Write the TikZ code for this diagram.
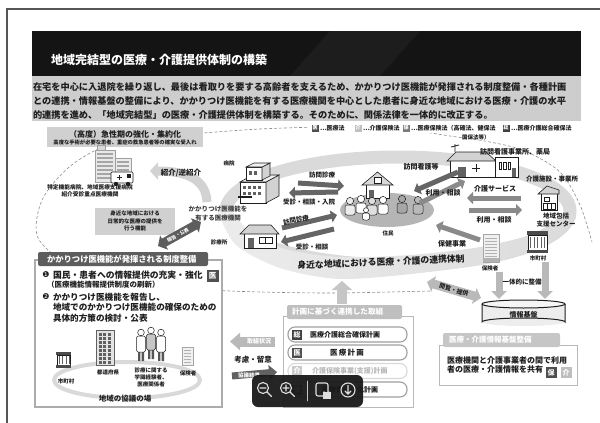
\documentclass[tikz,border=0pt]{standalone}
\usepackage{fontspec}
\setmainfont{Noto Sans CJK JP}
\newfontfamily\dingfont{DejaVu Sans}
\usetikzlibrary{arrows.meta,calc,shapes.geometric}
\definecolor{ink}{HTML}{1E1E1E}
\definecolor{barblack}{HTML}{141414}
\definecolor{bandgray}{HTML}{CDCDCD}
\definecolor{ringgray}{HTML}{DADADA}
\definecolor{boxgray}{HTML}{D0D0D0}
\definecolor{tagdark}{HTML}{4F4F4F}
\definecolor{tagmid}{HTML}{7A7A7A}
\definecolor{taglight}{HTML}{BEBEBE}
\definecolor{arrowgray}{HTML}{8A8A8A}
\definecolor{arrowdark}{HTML}{656565}
\definecolor{linegray}{HTML}{8C8C8C}
\newcommand{\fsz}[1]{\fontsize{#1}{#1}\selectfont}

\tikzset{
  lbl/.style={inner sep=0pt, outer sep=0pt, text=ink, font=\bfseries\fsz{#1}},
  lbl/.default=6,
  wlbl/.style={inner sep=0pt, outer sep=0pt, text=white, font=\bfseries\fsz{#1}},
  wlbl/.default=6,
  tagbox/.style={minimum width=#1, minimum height=#1, inner sep=0pt, text=white, font=\bfseries\fsz{0.7*#1}},
  tagbox/.default=10,
  arr5/.style={line width=5pt, -{Triangle[length=6pt,width=12pt]}},
  arr10/.style={line width=10pt, -{Triangle[length=9pt,width=20pt]}},
  darr/.style={line width=9pt, {Triangle[length=7pt,width=16pt]}-{Triangle[length=7pt,width=16pt]}},
  thin/.style={draw=ink, line width=0.6pt},
  pics/person/.style={code={
    \filldraw[fill=#1, draw=ink, line width=0.5pt, rounded corners=2pt] (-5,10) -- (-5,0) -- (5,0) -- (5,10) -- cycle;
    \filldraw[fill=#1, draw=ink, line width=0.5pt] (0,-4) circle (3.6);
  }},
  pics/stander/.style={code={
    \fill[ink!75] (-3,4) rectangle (-0.6,14) (0.6,4) rectangle (3,14);
    \filldraw[fill=#1, draw=ink, line width=0.5pt, rounded corners=1.5pt] (-4.5,-11) rectangle (4.5,5);
    \filldraw[fill=white, draw=ink, line width=0.5pt] (0,-14.5) circle (3.3);
  }}
}

\begin{document}
\begin{tikzpicture}[x=1pt, y=-1pt]
\useasboundingbox (0,0) rectangle (600,423);

% page frame
\draw[ink!75, line width=1.2pt] (600,9) -- (7,9) -- (7,423);

% header bar
\fill[barblack] (32,31) rectangle (581,76);
\fill[white, opacity=0.04] (330,31) -- (420,31) -- (380,76) -- (290,76) -- cycle;
\node[wlbl=12, anchor=west] (title) at (51,60) {地域完結型の医療・介護提供体制の構築};

% summary band
\fill[bandgray] (32,76) rectangle (581,121);
\node[lbl=9.2, anchor=west] (sum1) at (33,87) {在宅を中心に入退院を繰り返し、最後は看取りを要する高齢者を支えるため、かかりつけ医機能が発揮される制度整備・各種計画};
\node[lbl=9.2, anchor=west] (sum2) at (33,101) {との連携・情報基盤の整備により、かかりつけ医機能を有する医療機関を中心とした患者に身近な地域における医療・介護の水平};
\node[lbl=9.2, anchor=west] (sum3) at (33,115) {的連携を進め、「地域完結型」の医療・介護提供体制を構築する。そのために、関係法律を一体的に改正する。};

% outer dashed region
\draw[linegray, dash pattern=on 3pt off 2pt, line width=0.6pt] plot[smooth] coordinates {(430,291) (330,293) (230,291) (140,285) (75,268) (38,238) (42,200) (68,168) (103,147) (150,137) (203,133) (260,129) (330,127) (400,129) (450,136) (490,142) (525,151) (560,172) (580,205) (592,242)};

% legend
\fill[white] (308,123) rectangle (590,133);
\node[tagbox=7, fill=tagdark, font=\bfseries\fsz{5}] (lg1) at (315,128) {医};
\node[lbl=6, anchor=west] (lt1) at (320,128) {…医療法};
\node[tagbox=7, fill=taglight, font=\bfseries\fsz{5}] (lg2) at (358,128) {介};
\node[lbl=6, anchor=west] (lt2) at (363,128) {…介護保険法};
\node[tagbox=7, fill=tagmid, font=\bfseries\fsz{5}] (lg3) at (406,128) {保};
\node[lbl=6, anchor=west] (lt3) at (411,128) {…医療保険法（高確法、健保法};
\node[lbl=5.5, anchor=west] (lt3b) at (462,137) {国保法等）};
\node[tagbox=7, fill=ink!85, font=\bfseries\fsz{5}] (lg4) at (506,128) {総};
\node[lbl=6, anchor=west] (lt4) at (511,128) {…医療介護総合確保法};

% community ring
\draw[ringgray, line width=13pt] (398,211) ellipse [x radius=172, y radius=54];
\shade[left color=white!85!gray, middle color=gray!62, right color=gray!28]
  plot[smooth] coordinates {(218,212) (236,245) (280,268) (340,279) (420,273) (490,263) (545,246) (576,218)}
  -- plot[smooth] coordinates {(568,210) (535,233) (480,247) (410,255) (340,257) (285,249) (250,232) (230,208)} -- cycle;
\node[lbl=8.8, rotate=2.5] (bandtxt) at (381,262) {身近な地域における医療・介護の連携体制};

% acute care hospitals (top left)
\fill[boxgray] (47,127) rectangle (203,147);
\node[lbl=8] (acute) at (125,134) {（高度）急性期の強化・集約化};
\node[lbl=5.3] (acute2) at (125,142.5) {高度な手術が必要な患者、重症の救急患者等の確実な受入れ};
\filldraw[fill=gray!18, draw=gray!75, line width=0.5pt] (95,150) rectangle (115,182);
\foreach \yy in {154,158,...,178} \draw[gray!70, line width=1.2pt] (97,\yy) -- (113,\yy);
\filldraw[fill=gray!30, draw=gray!75, line width=0.5pt] (97,145) rectangle (105,150);
\filldraw[fill=gray!15, draw=gray!75, line width=0.5pt] (115,158) rectangle (131,178);
\foreach \yy in {162,166,...,174} \draw[gray!70, line width=1.2pt] (117,\yy) -- (129,\yy);
\filldraw[fill=white, draw=ink, line width=0.6pt, rounded corners=1pt] (111,172) rectangle (133,183);
\fill[ink] (127,174) rectangle (131,178);
\draw[ink, line width=0.7pt] (117,177.5) -- (122,177.5) (119.5,175) -- (119.5,180);
\fill[ink] (116,184) circle (2.2) (128,184) circle (2.2);
\node[lbl=5.7, align=center] (bighosp) at (90,191) {特定機能病院、地域医療支援病院\\[1.5pt]紹介受診重点医療機関};

% referral arrow
\draw[gray!35, line width=9pt, -{Triangle[length=8pt,width=17pt]}] (207,202) .. controls (206,180) and (188,171) .. (150,171);
\node[lbl=7.5] (referral) at (181,173) {紹介/逆紹介};

% everyday care function
\fill[boxgray] (95,208) rectangle (175,235);
\node[lbl=5.5, align=center] (dailycare) at (135,221) {身近な地域における\\[2pt]日常的な医療の提供を\\[2pt]行う機能};

% family doctor institutions
\node[lbl=6.5, align=center, text=ink!85] (kakari) at (218,213.5) {かかりつけ医機能を\\[2pt]有する医療機関};

% hospital icon
\filldraw[fill=white, thin] (240,182) rectangle (266,203);
\filldraw[fill=gray!35, thin] (266,182) -- (279,175) -- (279,196) -- (266,203) -- cycle;
\filldraw[fill=gray!12, thin] (240,182) -- (253,175) -- (279,175) -- (266,182) -- cycle;
\filldraw[fill=white, thin] (246,167) rectangle (262,180);
\filldraw[fill=gray!35, thin] (262,167) -- (270,163) -- (270,176) -- (262,180) -- cycle;
\filldraw[fill=gray!12, thin] (246,167) -- (254,163) -- (270,163) -- (262,167) -- cycle;
\foreach \xx in {243,248,...,261} {\fill[ink!70] (\xx,186) rectangle ++(3,3); \fill[ink!70] (\xx,192) rectangle ++(3,3);}
\foreach \xx in {249,254} \fill[ink!70] (\xx,171) rectangle ++(3,4);
\draw[ink, line width=1.2pt] (238,197) -- (252,197);
\node[lbl=5.5] (hosplbl) at (229,163) {病院};

% clinic icon
\filldraw[fill=white, thin] (244,233) rectangle (276,248);
\filldraw[fill=gray!35, thin] (240,234) -- (249,225) -- (271,225) -- (279,234) -- cycle;
\fill[ink!70] (248,238) rectangle (254,248);
\filldraw[fill=white, thin] (259,237) rectangle (272,243);
\draw[ink, line width=0.5pt] (265.5,237) -- (265.5,243);
\node[lbl=5.5] (cliniclbl) at (219,242) {診療所};

% residents
\node[ellipse, fill=gray!58, minimum width=94pt, minimum height=34pt, inner sep=0pt] (res) at (387,210) {};
\filldraw[fill=white, thin] (366,184) rectangle (389,198);
\filldraw[fill=gray!30, thin] (362,185) -- (377.5,172) -- (393,185) -- cycle;
\filldraw[fill=white, thin] (374,177) rectangle (381,183);
\fill[ink!70] (369,190) rectangle (374,198);
\pic at (350,205) {person=gray!15};
\pic at (361,203) {person=white};
\pic at (372,205) {person=gray!25};
\pic at (383,204) {person=white};
\pic[scale=0.7] at (366,213) {person=white};
\pic at (402,203) {person=gray!70};
\pic at (418,204) {person=gray!55};
\node[lbl=5.5] (reslbl) at (388,233) {住民};

% home-visit clinic arrows
\coordinate (hospOut) at (298,183);
\coordinate (resInA) at (344,186);
\coordinate (resOutA) at (338,192);
\coordinate (hospIn) at (289,193);
\draw[arr5, arrowdark] (hospOut) -- (resInA);
\draw[arr5, arrowdark] (resOutA) -- (hospIn);
\node[lbl=6.5] (visit1) at (322,175) {訪問診療};
\node[lbl=6.5] (consult1) at (309,202) {受診・相談・入院};
\coordinate (clinOut) at (282,228);
\coordinate (resInB) at (337,215);
\coordinate (resOutB) at (334,229);
\coordinate (clinIn) at (281,242);
\draw[arr5, arrowdark] (clinOut) -- (resInB);
\draw[arr5, arrowdark] (resOutB) -- (clinIn);
\node[lbl=6.5, rotate=12] (visit2) at (296,220) {訪問診療};
\node[lbl=6.5] (consult2) at (312,247) {受診・相談};

% home-visit nursing station and pharmacy
\filldraw[fill=white, thin] (450,160) rectangle (495,177);
\filldraw[fill=gray!35, thin] (447,161) -- (456,152) -- (486,152) -- (496,161) -- cycle;
\draw[ink, line width=0.8pt] (455,152) -- (455,144) (451,147) -- (459,145);
\fill[ink!70] (458,167) rectangle (466,177);
\draw[ink, line width=0.8pt] (472,168) -- (480,168) (476,164) -- (476,172);
\filldraw[fill=white, thin] (495,157) rectangle (518,177);
\foreach \xx in {499,503.5,508} \filldraw[fill=white, draw=ink, line width=0.6pt] (\xx,162) rectangle ++(2.5,7);
\fill[ink!70] (512,168) rectangle (516,177);
\node[lbl=7, anchor=west] (nurselbl) at (480,152) {訪問看護事業所、薬局};

\coordinate (nurseOut) at (458,172);
\coordinate (resInC) at (414,191);
\coordinate (resOutC) at (420,203);
\coordinate (nurseIn) at (465,181);
\draw[arr5, arrowdark] (nurseOut) -- (resInC);
\draw[arr5, arrowgray] (resOutC) -- (nurseIn);
\node[lbl=7] (nurse) at (421,167) {訪問看護等};
\node[lbl=7] (use1) at (443,193) {利用・相談};

% care facility and community support center
\filldraw[fill=white, thin] (541,193) rectangle (557,210);
\filldraw[fill=gray!35, thin] (538,194) -- (547,186) -- (559,190) -- (559,194) -- cycle;
\filldraw[fill=white, thin] (544,197) rectangle (549,201);
\filldraw[fill=white, thin] (543,203) rectangle (555,209);
\draw[ink, line width=0.6pt] (547,203) -- (547,209) (551,203) -- (551,209);
\node[lbl=6.5] (carelbl) at (552,179) {介護施設・事業所};
\node[lbl=6.5, align=center] (centerlbl) at (556,220) {地域包括\\[2pt]支援センター};

\coordinate (careOut) at (521,198);
\coordinate (resInD) at (467,198);
\coordinate (resOutD) at (469,210);
\coordinate (careIn) at (522,210);
\draw[arr5, arrowgray] (careOut) -- (resInD);
\draw[arr5, arrowgray] (resOutD) -- (careIn);
\node[lbl=7] (caresvc) at (495,189) {介護サービス};
\node[lbl=7] (use2) at (494,220) {利用・相談};

% insurers and municipality
\filldraw[fill=gray!12, draw=gray!70, line width=0.6pt] (483,234) rectangle (499,262);
\foreach \yy in {238,241,...,256} \draw[gray!60, line width=0.6pt] (485,\yy) -- (497,\yy);
\fill[gray!60] (483,258) rectangle (499,262);
\node[lbl=5.5] (insurerlbl) at (490,268) {保険者};
\fill[ink!80] (527,231) rectangle (548,235);
\filldraw[fill=white, draw=ink, line width=0.5pt] (528,235) rectangle (547,251);
\foreach \xx in {530.5,534,...,545} \draw[ink!70, line width=1pt] (\xx,237) -- (\xx,248);
\fill[ink!80] (527,250) rectangle (548,253);
\node[lbl=5.5] (citylbl) at (538,258) {市町村};

\coordinate (insOut) at (480,240);
\coordinate (resInE) at (436,225);
\draw[arr5, arrowgray] (insOut) -- (resInE);
\node[lbl=7] (health) at (452,244) {保健事業};

% information platform
\coordinate (insDown) at (499,272);
\coordinate (cityDown) at (545,262);
\coordinate (kibanL) at (499,299);
\coordinate (kibanR) at (545,299);
\draw[gray!55, line width=7pt, -{Triangle[length=8pt,width=15pt]}] (insDown) -- (kibanL);
\draw[gray!55, line width=7pt, -{Triangle[length=8pt,width=15pt]}] (cityDown) -- (kibanR);
\node[lbl=6.5] (integ) at (522,282) {一体的に整備};
\fill[gray!14] (482,304) rectangle (565,322);
\fill[gray!14] (523.5,322) ellipse [x radius=41.5, y radius=4];
\draw[ink, line width=1pt] (482,304) -- (482,322) arc[start angle=180, end angle=360, x radius=41.5, y radius=4] -- (565,304);
\filldraw[fill=gray!8, draw=ink, line width=1pt] (523.5,304) ellipse [x radius=41.5, y radius=4];
\node[lbl=7] (kiban) at (523.5,315) {情報基盤};

\coordinate (viewA) at (427,282);
\coordinate (viewB) at (481,298);
\draw[darr, gray!55] (viewA) -- (viewB);
\node[lbl=6, rotate=-17] (viewtxt) at (454,290) {閲覧・提供};

% information sharing box
\filldraw[fill=white, draw=gray!55, line width=1pt] (439,345) rectangle (577,385);
\fill[gray!45, rounded corners=2pt] (443,333) rectangle (560,347);
\node[wlbl=7.5, anchor=west] (infotitle) at (449,340) {医療・介護情報基盤整備};
\node[lbl=8, anchor=west, align=left] (infobody) at (447,364.5) {医療機関と介護事業者の間で利用\\[1pt]者の医療・介護情報を共有};
\node[tagbox=11, fill=tagdark, font=\bfseries\fsz{7}] (tagho) at (551,372.5) {保};
\node[tagbox=11, fill=taglight, font=\bfseries\fsz{7}] (tagkai) at (566,372.5) {介};

% plan-based collaboration
\coordinate (planTop) at (342,304);
\coordinate (bandHit) at (342,281);
\draw[arr10, gray!45] (planTop) -- (bandHit);
\filldraw[fill=white, draw=gray!55, line width=1pt] (283,316) rectangle (413,407);
\fill[gray!50, rounded corners=2pt] (287,305) rectangle (402,319);
\node[wlbl=7.6, anchor=west] (plantitle) at (292,312) {計画に基づく連携した取組};
\foreach \yc/\col in {334.5/gray!75, 352.5/gray!75, 371/gray!30, 389.5/gray!75}
  \draw[\col, line width=1.1pt, rounded corners=7pt] (288,\yc-7.5) rectangle (407,\yc+7.5);
\node[tagbox=10, fill=ink!85, font=\bfseries\fsz{7}] (p1tag) at (297,334.5) {総};
\node[lbl=7, anchor=west] (p1) at (310,334.5) {医療介護総合確保計画};
\node[tagbox=10, fill=tagdark, font=\bfseries\fsz{7}] (p2tag) at (297,352.5) {医};
\node[lbl=7.5] (p2) at (347,352.5) {医\,療\,計\,画};
\node[tagbox=10, fill=taglight!80, font=\bfseries\fsz{7}] (p3tag) at (297,371) {介};
\node[lbl=7, anchor=west, text=gray!55] (p3) at (312,371) {介護保険事業(支援)計画};
\node[tagbox=10, fill=tagmid, font=\bfseries\fsz{7}] (p4tag) at (297,389.5) {保};
\node[lbl=7] (p4) at (350,389.5) {医療費適正化計画};

% status feedback arrows
\coordinate (statusR) at (275,341.5);
\coordinate (statusL) at (230,341.5);
\draw[gray!55, line width=10pt, -{Triangle[length=10pt,width=17pt]}] (statusR) -- (statusL);
\node[wlbl=6] (status) at (259,341.5) {取組状況};
\node[lbl=7.5] (consider) at (253,360) {考慮・留意};
\coordinate (resultL) at (232,376);
\coordinate (resultR) at (277,372);
\draw[ink!70, line width=7pt, -{Triangle[length=8pt,width=15pt]}] (resultL) -- (resultR);
\node[wlbl=5.5] (result) at (249,375.5) {協議結果};

% family doctor function system box
\filldraw[fill=white, draw=gray!65, line width=1.2pt] (35,260) rectangle (222,407);
\fill[ink!72, rounded corners=2pt] (38,252) rectangle (208,266);
\node[wlbl=8.3, anchor=west] (systitle) at (47,259) {かかりつけ医機能が発揮される制度整備};
\node[inner sep=0pt, text=ink, font=\dingfont\fsz{8}] (num1) at (46,275) {❶};
\node[lbl=8.8, anchor=west] (item1) at (53,275) {国民・患者への情報提供の充実・強化};
\node[tagbox=12, fill=tagdark, font=\bfseries\fsz{7.5}] (tagi) at (212.5,276) {医};
\node[lbl=7.5, anchor=west] (item1b) at (47,284.5) {（医療機能情報提供制度の刷新）};
\node[inner sep=0pt, text=ink, font=\dingfont\fsz{8}] (num2) at (46,297) {❷};
\node[lbl=8.6, anchor=west] (item2a) at (53,297) {かかりつけ医機能を報告し、};
\node[lbl=8.6, anchor=west] (item2b) at (53,307.5) {地域でのかかりつけ医機能の確保のための};
\node[lbl=8.6, anchor=west] (item2c) at (53,318.5) {具体的方策の検討・公表};

% regional council
\draw[gray!30, line width=4pt] (127,380) ellipse [x radius=73, y radius=18];
\fill[ink!80] (56,352) rectangle (71,355);
\filldraw[fill=white, draw=ink, line width=0.5pt] (57,355) rectangle (70,365);
\foreach \xx in {59,62.5,66,69} \draw[ink!70, line width=0.9pt] (\xx,356) -- (\xx,364);
\fill[ink!80] (56,365) rectangle (71,368);
\node[lbl=5.5] (council1) at (66,381) {市町村};
\filldraw[fill=gray!22, draw=ink!70, line width=0.5pt] (96,330) rectangle (114,365);
\foreach \yy in {333,337,...,361} \foreach \xx in {98.5,103,107.5} \fill[ink!70] (\xx,\yy) rectangle ++(3,2.5);
\node[lbl=5.5] (council2) at (108,372) {都道府県};
\pic at (141,347) {stander=white};
\pic at (151,345) {stander=gray!45};
\pic at (161,347) {stander=white};
\node[lbl=5.5, align=center] (council3) at (151,377) {診療に関する\\[1.5pt]学識経験者、\\[1.5pt]医療関係者};
\filldraw[fill=gray!12, draw=gray!70, line width=0.6pt] (182,347) rectangle (193,365);
\foreach \yy in {350,353,...,362} \draw[gray!60, line width=0.6pt] (184,\yy) -- (191,\yy);
\node[lbl=5.5] (council4) at (188,373) {保険者};
\node[lbl=7.5] (councilname) at (125,399) {地域の協議の場};

% report arrow between institutions and the system box
\coordinate (repA) at (158,246);
\coordinate (repB) at (201,222);
\draw[darr, ink!72] (repA) -- (repB);
\node[wlbl=4.8, rotate=29] (report) at (178,235) {報告・公表};

% viewer toolbar
\fill[black!90, opacity=0.95, rounded corners=6pt] (252,375) rectangle (363,407);
\begin{scope}[draw=gray!25, line width=1.1pt, line cap=round]
  \draw (263,388) circle (5.5) (267,392) -- (271.5,396.5) (260,388) -- (266,388);
  \draw (286,388) circle (5.5) (290,392) -- (294.5,396.5) (283,388) -- (289,388) (286,385) -- (286,391);
  \draw[gray!45, line width=0.6pt] (307,381) -- (307,401);
  \draw[rounded corners=2pt] (316,383) rectangle (328,396);
  \fill[gray!25] (322.5,391.5) rectangle (330.5,399);
  \draw[line width=0.9pt] (324,391.5) arc[start angle=180, end angle=0, radius=2.5];
  \draw (348,390) circle (7) (348,385.5) -- (348,394) (345,391) -- (348,394) -- (351,391);
\end{scope}
\end{tikzpicture}
\end{document}
